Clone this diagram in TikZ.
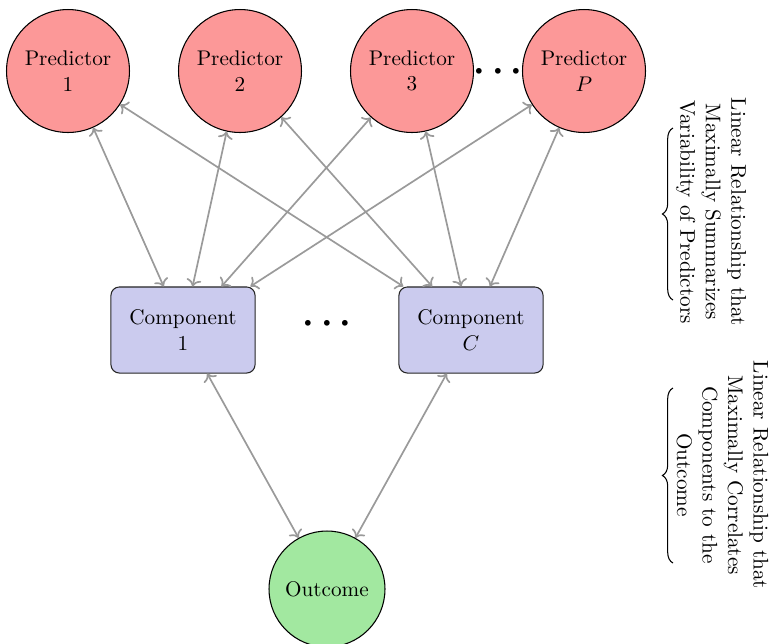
\documentclass[tikz,border=0pt]{standalone}
\usetikzlibrary{decorations.pathreplacing,arrows.meta}
\definecolor{predfill}{HTML}{FC9898}
\definecolor{compfill}{HTML}{CBCBEE}
\definecolor{outfill}{HTML}{A2E8A0}
\definecolor{edgegray}{HTML}{9A9A9A}
\begin{document}
\begin{tikzpicture}[x=0.4717pt,y=-0.4717pt,
  pred/.style={circle,draw=black,fill=predfill,minimum size=58pt,inner sep=0pt,align=center,line width=0.5pt},
  comp/.style={rectangle,rounded corners=4pt,draw=black!85,fill=compfill,minimum width=68pt,minimum height=40.6pt,align=center,line width=0.5pt},
  outc/.style={circle,draw=black,fill=outfill,minimum size=54.7pt,inner sep=0pt,align=center,line width=0.5pt},
  link/.style={draw=edgegray,thick,<->},
  dotsnode/.style={font=\LARGE\boldmath,anchor=base,inner sep=0pt},
  bracepath/.style={decorate,decoration={brace,amplitude=5pt},line width=0.5pt},
  bracetext/.style={rotate=-90,align=center}]
\useasboundingbox (0,0) rectangle (775,643);
% predictors
\node[pred] (p1) at (68,71) {Predictor\\1};
\node[pred] (p2) at (240,71) {Predictor\\2};
\node[pred] (p3) at (412,71) {Predictor\\3};
\node[pred] (pP) at (584,71) {Predictor\\$P$};
\node[dotsnode] (pdots) at (498,80) {$\cdots$};
% components
\node[comp] (c1) at (183,330) {Component\\1};
\node[comp] (cC) at (471,330) {Component\\$C$};
\node[dotsnode] (cdots) at (327,332) {$\cdots$};
% outcome
\node[outc] (out) at (327,589) {Outcome};
% edges
\foreach \p in {p1,p2,p3,pP}{
  \foreach \c in {c1,cC}{
    \draw[link] (\p) -- (\c);
  }
}
\draw[link] (c1) -- (out);
\draw[link] (cC) -- (out);
% braces
\coordinate (b1s) at (673,300);
\coordinate (b1e) at (673,128);
\draw[bracepath] (b1s) -- (b1e);
\node[bracetext] (t1) at (711,212) {Linear Relationship that\\Maximally Summarizes\\Variability of Predictors};
\coordinate (b2s) at (673,563);
\coordinate (b2e) at (673,388);
\draw[bracepath] (b2s) -- (b2e);
\node[bracetext] (t2) at (722.5,475) {Linear Relationship that\\Maximally Correlates\\Components to the\\Outcome};
\end{tikzpicture}
\end{document}
